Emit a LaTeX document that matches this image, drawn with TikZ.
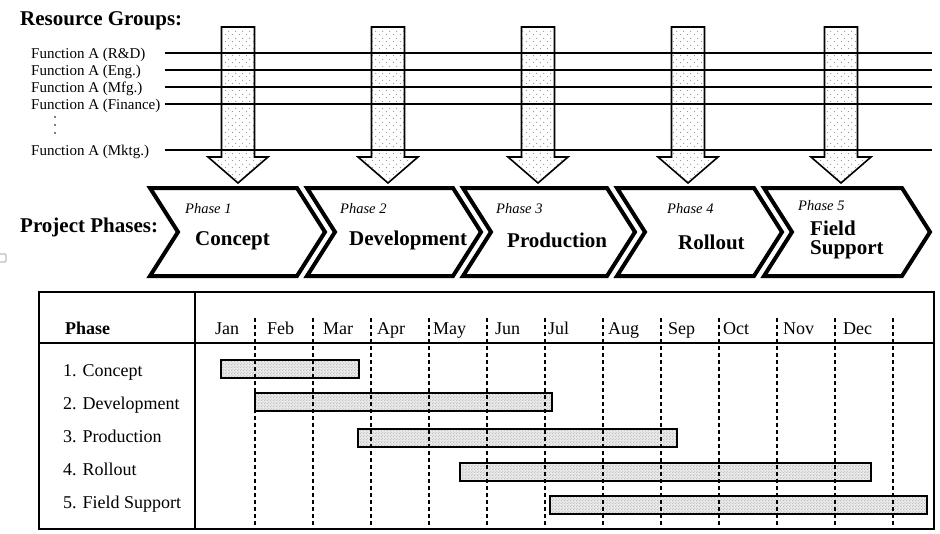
\documentclass[tikz,border=0pt]{standalone}
\usepackage{fontspec}
\setmainfont{Liberation Serif}
\usetikzlibrary{patterns.meta}
\newcommand\myfs[1]{\fontsize{#1}{#1}\selectfont}
\tikzdeclarepattern{name=sdots, type=uncolored,
  bounding box={(0pt,0pt) and (7pt,7pt)}, tile size={(7pt,7pt)},
  code={\fill (1.75pt,1.75pt) circle (0.7pt); \fill (5.25pt,5.25pt) circle (0.7pt);}}
\tikzdeclarepattern{name=bdots, type=uncolored,
  bounding box={(0pt,0pt) and (3pt,3pt)}, tile size={(3pt,3pt)},
  code={\fill (0.75pt,0.75pt) circle (0.5pt); \fill (2.25pt,2.25pt) circle (0.5pt);}}
\begin{document}
\begin{tikzpicture}[x=1pt,y=-1pt,
  arr/.style={draw=black, line width=1.6pt, line join=miter},
  fline/.style={line width=1.8pt},
  chev/.style={draw, line width=4pt, line join=miter, fill=white},
  bar/.style={draw, line width=1.6pt},
  mgrid/.style={line width=1.1pt, dash pattern=on 4pt off 3pt},
  tbl/.style={line width=1.5pt},
  lbl/.style={inner sep=0pt, anchor=base west},
  title/.style={lbl, font=\myfs{21}\bfseries},
  func/.style={lbl, font=\myfs{15}},
  ph/.style={lbl, font=\myfs{14.5}\itshape},
  big/.style={lbl, font=\myfs{21}\bfseries},
  cell/.style={lbl, font=\myfs{18}}
]
\useasboundingbox (0,0) rectangle (940,533);

% titles
\node[title] (tres) at (20,25) {Resource Groups:};
\node[title] (tproj) at (20,232) {Project Phases:};
\draw[gray!50, line width=1.2pt, rounded corners=1pt] (0,254) -- (6,254) -- (6,262) -- (0,262);

% resource arrows
\foreach \c in {238,388,538,688,841} {
  \fill[white] (\c-16.5,27) -- (\c+16.5,27) -- (\c+16.5,157) -- (\c+30,157)
     -- (\c,183) -- (\c-30,157) -- (\c-16.5,157) -- cycle;
  \fill[pattern=sdots, pattern color=gray!80] (\c-16.5,27) -- (\c+16.5,27) -- (\c+16.5,157) -- (\c+30,157)
     -- (\c,183) -- (\c-30,157) -- (\c-16.5,157) -- cycle;
  \draw[arr] (\c-16.5,27) -- (\c+16.5,27) -- (\c+16.5,157) -- (\c+30,157)
     -- (\c,183) -- (\c-30,157) -- (\c-16.5,157) -- cycle;
}

% function lines and labels
\foreach \y/\t/\n in {53/{Function A (R\&D)}/1, 70/{Function A (Eng.)}/2,
   87/{Function A (Mfg.)}/3, 104/{Function A (Finance)}/4, 150/{Function A (Mktg.)}/5} {
  \node[func] (f\n) at (31,\y+5) {\t};
  \coordinate (fa\n) at (165,\y);
  \coordinate (fb\n) at (932,\y);
  \draw[fline] (fa\n) -- (fb\n);
}
\foreach \y in {117,125,133} \fill (55,\y) circle (0.8pt);

% chevrons
\foreach \L/\T in {150/325, 307/481, 463/635, 617/782, 764/930}
  \draw[chev] (\L,188) -- (\T-28,188) -- (\T,232) -- (\T-28,276) -- (\L,276)
     -- (\L+28,232) -- cycle;

\node[ph] (p1) at (185,213) {Phase 1};
\node[ph] (p2) at (340,213) {Phase 2};
\node[ph] (p3) at (496,213) {Phase 3};
\node[ph] (p4) at (667,213) {Phase 4};
\node[ph] (p5) at (798,210) {Phase 5};
\node[big] (n1) at (195,245) {Concept};
\node[big] (n2) at (349,245) {Development};
\node[big] (n3) at (507,247) {Production};
\node[big] (n4) at (678,249) {Rollout};
\node[big] (n5a) at (810,235) {Field};
\node[big] (n5b) at (810,254) {Support};

% table frame
\draw[tbl] (39,292) rectangle (934,529);
\draw[tbl] (39,343) -- (934,343);
\draw[tbl] (195,292) -- (195,529);

% bars
\foreach \a/\b/\t in {221/359/360, 255/552/393, 358/677/429, 460/871/463, 550/927/496} {
  \fill[gray!18] (\a,\t) rectangle (\b,\t+18);
  \fill[pattern=bdots, pattern color=gray!75] (\a,\t) rectangle (\b,\t+18);
  \draw[bar] (\a,\t) rectangle (\b,\t+18);
}

% month grid
\foreach \x in {255,313,371,429,487,545,603,661,719,777,835,893}
  \draw[mgrid] (\x,318) -- (\x,529);

% header
\node[cell, font=\myfs{18}\bfseries] (hph) at (65,334) {Phase};
\foreach \x/\m in {215/Jan,267/Feb,323/Mar,377/Apr,433/May,495/Jun,548/Jul,608/Aug,668/Sep,723/Oct,783/Nov,843/Dec}
  \node[cell] (m\m) at (\x,334) {\m};

% rows
\node[cell] (r1) at (63,376) {1. Concept};
\node[cell] (r2) at (63,409) {2. Development};
\node[cell] (r3) at (63,442) {3. Production};
\node[cell] (r4) at (63,475) {4. Rollout};
\node[cell] (r5) at (63,508) {5. Field Support};
\end{tikzpicture}
\end{document}
